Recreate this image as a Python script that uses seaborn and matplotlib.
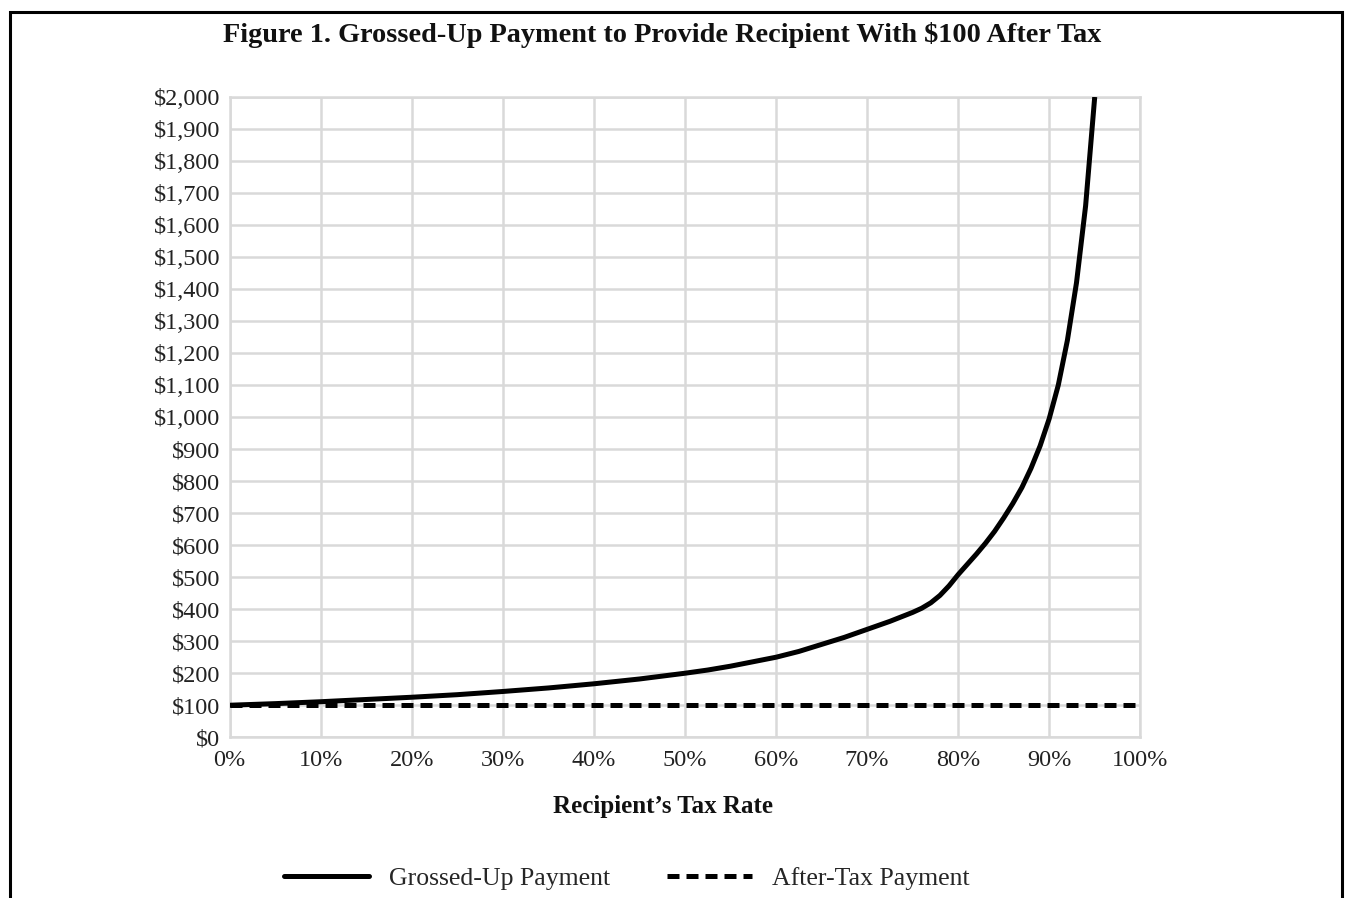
import numpy as np
import pandas as pd
import matplotlib.pyplot as plt
import seaborn as sns
from matplotlib.patches import Rectangle
from matplotlib.lines import Line2D
from matplotlib.ticker import FuncFormatter

# tax rates (fraction) and grossed-up payment
tax_rate = [0.00, 0.05, 0.10, 0.15, 0.20, 0.25, 0.30, 0.35, 0.40, 0.45, 0.50,
            0.525, 0.55, 0.575, 0.60, 0.625, 0.65, 0.675, 0.70, 0.725, 0.75,
            0.76, 0.77, 0.78, 0.79, 0.80, 0.81, 0.82, 0.83, 0.84, 0.85,
            0.86, 0.87, 0.88, 0.89, 0.90, 0.91, 0.92, 0.93, 0.94, 0.95]
grossed_up = [100, 105, 111, 118, 125, 133, 143, 154, 167, 182, 200,
              210, 222, 236, 250, 268, 290, 312, 337, 362, 390,
              403, 420, 443, 473, 508, 540, 572, 606, 643, 685,
              730, 780, 840, 910, 995, 1100, 1240, 1420, 1660, 2000]

# after-tax payment is flat $100 across the whole axis
after_rate = [0.0, 0.1, 0.2, 0.3, 0.4, 0.5, 0.6, 0.7, 0.8, 0.9, 1.0]
after_tax = [100, 100, 100, 100, 100, 100, 100, 100, 100, 100, 100]

title = "Figure 1. Grossed-Up Payment to Provide Recipient With $100 After Tax"

sns.set_theme(style="white")
plt.rcParams['font.family'] = ['Liberation Serif', 'DejaVu Serif']

gross_df = pd.DataFrame({'rate': tax_rate, 'payment': grossed_up})
after_df = pd.DataFrame({'rate': after_rate, 'payment': after_tax})

fig = plt.figure(figsize=(13.51, 8.98), dpi=100)
ax = fig.add_axes([0.170, 0.179, 0.674, 0.713])

grid_c = '#d9d9d9'
lw = 3.6
dash = (2.4, 1.4)
sns.lineplot(data=gross_df, x='rate', y='payment', ax=ax, color='black', lw=lw,
             solid_capstyle='butt', zorder=4)
sns.lineplot(data=after_df, x='rate', y='payment', ax=ax, color='black', lw=lw,
             dashes=dash, zorder=3)

ax.set_xlim(0, 1.0)
ax.set_ylim(0, 2000)
ax.set_xticks(np.arange(0, 1.01, 0.1))
ax.set_yticks(np.arange(0, 2001, 100))
ax.xaxis.set_major_formatter(FuncFormatter(lambda v, p: f"{v*100:.0f}%"))
ax.yaxis.set_major_formatter(FuncFormatter(lambda v, p: f"${v:,.0f}"))
ax.tick_params(axis='both', labelsize=17.5, length=0, colors='#222222')
ax.tick_params(axis='x', pad=9)
ax.tick_params(axis='y', pad=7)
ax.grid(True, color=grid_c, lw=1.8)
for s in ax.spines.values():
    s.set_color(grid_c)
    s.set_linewidth(1.8)

ax.set_xlabel("Recipient\u2019s Tax Rate", fontsize=18, fontweight='bold',
              color='#111111')
ax.xaxis.set_label_coords(0.476, -0.108)
ax.xaxis.label.set_va('center')
ax.set_ylabel("")

fig.text(0.490, 0.961, title, ha='center', va='center', fontsize=20.3,
         fontweight='bold', color='#111111')

handles = [Line2D([], [], color='black', lw=lw),
           Line2D([], [], color='black', lw=lw, dashes=dash)]
fig.legend(handles, ['Grossed-Up Payment', 'After-Tax Payment'],
           loc='center', bbox_to_anchor=(0.464, 0.022), ncol=2, frameon=False,
           fontsize=18.5, handlelength=3.3, columnspacing=2.2, handletextpad=0.8)

fig.add_artist(Rectangle((0.0074, -0.02), 0.9859, 1.007, transform=fig.transFigure,
                         fill=False, edgecolor='black', lw=2.2))

fig.savefig('out.png', dpi=100, facecolor='white')
